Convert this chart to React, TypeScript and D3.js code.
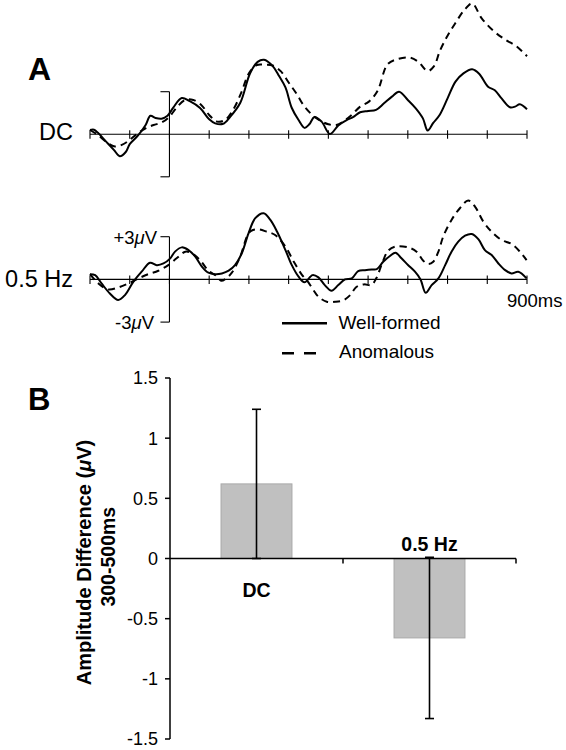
import React from "react";
import * as d3 from "d3";

// ---------- Panel A data (time in ms, amplitude in µV) ----------
const dcWellFormed: [number, number][] = [
  [-200, 0.3], [-190, 0.32], [-180, 0.1], [-160, -0.5], [-140, -1.1], [-125, -1.55], [-110, -1.25],
  [-100, -0.7], [-80, -0.12], [-60, 0.65], [-48, 1.3], [-35, 1.15], [-20, 1.1], [-5, 1.3], [10, 1.9],
  [31, 2.55], [50, 2.35], [77, 1.85], [100, 1.05], [115, 0.77], [135, 0.74], [152, 1.2], [178, 2.2],
  [203, 4.3], [222, 5.1], [238, 5.25], [260, 4.8], [276, 4.1], [292, 3.3], [308, 1.85], [325, 1.0],
  [340, 0.45], [352, 0.7], [365, 1.22], [383, 0.89], [404, 0.02], [425, 0.62], [446, 1.0], [462, 1.2],
  [480, 1.55], [500, 1.64], [520, 1.72], [540, 2.18], [560, 2.65], [578, 3.0], [600, 2.42], [620, 1.83],
  [638, 1.12], [650, 0.26], [664, 0.8], [680, 1.36], [700, 2.53], [720, 3.71], [740, 4.29], [762, 4.58],
  [780, 4.25], [802, 3.35], [819, 3.1], [836, 2.53], [857, 1.9], [870, 1.95], [882, 2.11], [900, 1.76],
];
const dcAnomalous: [number, number][] = [
  [-200, 0.3], [-180, -0.05], [-160, -0.52], [-140, -0.85], [-120, -0.75], [-100, -0.4], [-80, 0.07],
  [-60, 0.42], [-40, 0.65], [-20, 0.82], [0, 1.24], [20, 1.95], [40, 2.42], [60, 2.42], [80, 2.07],
  [100, 1.36], [120, 0.89], [140, 1.01], [160, 1.71], [180, 2.88], [200, 4.29], [220, 4.88], [240, 4.9],
  [260, 4.85], [280, 4.45], [300, 3.65], [320, 2.85], [340, 1.95], [360, 1.35], [380, 0.95], [400, 0.7],
  [420, 0.65], [440, 0.95], [460, 1.4], [480, 1.95], [502, 2.3], [524, 3.07], [549, 4.93], [574, 5.3],
  [605, 5.4], [626, 5.12], [650, 4.46], [666, 4.8], [681, 5.9], [700, 6.95], [720, 7.85], [742, 8.75],
  [762, 9.22], [786, 8.17], [815, 7.3], [844, 6.69], [874, 6.19], [900, 5.5],
];
const hzWellFormed: [number, number][] = [
  [-200, 0.37], [-187, 0.3], [-171, -0.28], [-150, -0.99], [-129, -1.45], [-112, -1.1], [-91, -0.17],
  [-70, 0.54], [-49, 1.17], [-32, 1.0], [-15, 1.12], [2, 1.48], [14, 1.95], [31, 2.25], [48, 2.06],
  [65, 1.6], [82, 0.89], [98, 0.47], [115, 0.37], [132, 0.42], [149, 0.61], [165, 1.0], [182, 1.83],
  [199, 3.24], [216, 4.3], [237, 4.65], [254, 4.18], [271, 3.35], [292, 2.06], [308, 1.0], [325, 0.19],
  [340, -0.2], [360, 0.3], [375, 0.14], [391, -0.4], [408, -0.8], [425, -0.4], [442, 0], [459, 0.07],
  [475, 0.58], [492, 0.65], [509, 0.7], [522, 0.72], [538, 1.24], [555, 1.64], [569, 1.88], [584, 1.48],
  [601, 1.0], [618, 0.54], [632, 0.0], [645, -0.94], [660, -0.4], [677, 0.07], [694, 1.0], [710, 1.95],
  [727, 2.65], [744, 3.07], [761, 3.19], [778, 2.81], [794, 2.06], [811, 1.71], [828, 1.12], [845, 0.65],
  [861, 0.42], [878, 0.54], [899, 0.07],
];
const hzAnomalous: [number, number][] = [
  [-200, 0.37], [-179, -0.28], [-154, -0.71], [-129, -0.57], [-103, -0.28], [-78, 0.07], [-53, 0.37],
  [-28, 0.61], [-3, 1.0], [18, 1.48], [40, 1.95], [56, 1.83], [77, 1.36], [98, 0.61], [119, 0.23],
  [130, -0.1], [142, 0.05], [157, 0.47], [178, 1.6], [199, 3.24], [210, 3.47], [224, 3.52], [245, 3.35],
  [266, 3.12], [292, 2.3], [313, 1.24], [334, 0.3], [347, -0.1], [360, -0.65], [375, -1.22], [396, -1.57],
  [417, -1.57], [438, -1.46], [455, -1.1], [471, -0.52], [490, -0.35], [508, -0.4], [521, 0.1],
  [535, 1.1], [550, 2.0], [568, 2.3], [601, 2.25], [622, 1.95], [639, 1.31], [651, 1.08], [664, 1.24],
  [677, 1.95], [689, 3.0], [710, 4.18], [731, 5.0], [752, 5.54], [769, 5.12], [790, 4.06], [811, 3.35],
  [836, 2.77], [861, 2.49], [882, 1.95], [899, 1.36],
];
const timeTicks = [-200, -100, 0, 100, 200, 300, 400, 500, 600, 700, 800, 900];
const legendLabels = ["Well-formed", "Anomalous"];

// ---------- Panel B data ----------
const barCategories = ["DC", "0.5 Hz"];
const barValues = [0.62, -0.66];
const barErrors = [0.62, 0.67];
const barTicks = [-1.5, -1, -0.5, 0, 0.5, 1, 1.5];

const FONT = "'Liberation Sans', Arial, Helvetica, sans-serif";

export default function App() {
  const x = d3.scaleLinear().domain([-200, 900]).range([90, 527]);
  const yDC = d3.scaleLinear().domain([-3, 3]).range([176.8, 91.7]);
  const yHz = d3.scaleLinear().domain([-3, 3]).range([322.1, 236.7]);

  const lineFor = (ys: d3.ScaleLinear<number, number>) =>
    d3
      .line<[number, number]>()
      .x((d) => x(d[0]))
      .y((d) => ys(d[1]))
      .curve(d3.curveCatmullRom.alpha(0.5));

  const lDC = lineFor(yDC);
  const lHz = lineFor(yHz);

  const yB = d3.scaleLinear().domain([-1.5, 1.5]).range([739, 378]);
  const xB = d3
    .scaleBand<string>()
    .domain(barCategories)
    .range([170, 516])
    .paddingInner(0.59)
    .paddingOuter(0.295);
  const step = xB.step();

  const axisPanel = (ys: d3.ScaleLinear<number, number>, labels: boolean) => {
    const y0 = ys(0);
    const top = ys(3);
    const bot = ys(-3);
    const x0 = x(0);
    return (
      <g>
        <line x1={x(-200)} x2={x(900)} y1={y0} y2={y0} stroke="#000" strokeWidth={1.1} />
        {timeTicks.map((t) => (
          <line key={t} x1={x(t)} x2={x(t)} y1={y0 - 4} y2={y0 + 4.5} stroke="#000" strokeWidth={1.1} />
        ))}
        <line x1={x0} x2={x0} y1={top} y2={bot} stroke="#000" strokeWidth={1.1} />
        <line x1={x0 - 9} x2={x0} y1={top} y2={top} stroke="#000" strokeWidth={1.1} />
        <line x1={x0 - 9} x2={x0} y1={bot} y2={bot} stroke="#000" strokeWidth={1.1} />
        {labels && (
          <>
            <text x={157} y={top + 6.8} textAnchor="end" fontSize={18.5} fontFamily={FONT}>
              +3<tspan fontStyle="italic">μ</tspan>V
            </text>
            <text x={154} y={bot + 6.5} textAnchor="end" fontSize={18.5} fontFamily={FONT}>
              -3<tspan fontStyle="italic">μ</tspan>V
            </text>
          </>
        )}
      </g>
    );
  };

  return (
    <svg
      width={566}
      height={750}
      style={{ position: "absolute", left: 0, top: 0, background: "#fff" }}
      fontFamily={FONT}
    >
      <rect x={0} y={0} width={566} height={750} fill="#fff" />
      {/* Panel labels */}
      <text x={28} y={80} fontSize={32} fontWeight="bold">A</text>
      <text x={28} y={410} fontSize={31} fontWeight="bold">B</text>

      {/* DC waveforms */}
      <text x={73} y={139.5} textAnchor="end" fontSize={23.5}>DC</text>
      {axisPanel(yDC, false)}
      <path d={lDC(dcWellFormed) || ""} fill="none" stroke="#000" strokeWidth={2} />
      <path d={lDC(dcAnomalous) || ""} fill="none" stroke="#000" strokeWidth={2} strokeDasharray="7,5" />

      {/* 0.5 Hz waveforms */}
      <text x={73} y={286.7} textAnchor="end" fontSize={23.5}>0.5 Hz</text>
      {axisPanel(yHz, true)}
      <path d={lHz(hzWellFormed) || ""} fill="none" stroke="#000" strokeWidth={2} />
      <path d={lHz(hzAnomalous) || ""} fill="none" stroke="#000" strokeWidth={2} strokeDasharray="7,5" />
      <text x={507} y={306.7} fontSize={18.5}>900ms</text>

      {/* Legend */}
      <line x1={282} x2={327} y1={323.3} y2={323.3} stroke="#000" strokeWidth={2.6} />
      <text x={338.5} y={328.5} fontSize={19}>{legendLabels[0]}</text>
      <line x1={282} x2={318} y1={353.3} y2={353.3} stroke="#000" strokeWidth={2.6} strokeDasharray="12,10" />
      <text x={339} y={358.3} fontSize={19}>{legendLabels[1]}</text>

      {/* Panel B bars */}
      {barCategories.map((c, i) => {
        const v = barValues[i];
        const bx = xB(c) as number;
        const bw = xB.bandwidth();
        const cx = bx + bw / 2;
        const yTop = yB(Math.max(0, v));
        const yBot = yB(Math.min(0, v));
        const eHi = yB(v + barErrors[i]);
        const eLo = yB(v - barErrors[i]);
        return (
          <g key={c}>
            <rect x={bx} y={yTop} width={bw} height={yBot - yTop} fill="#c0c0c0" stroke="#a9a9a9" strokeWidth={1} />
            <line x1={cx} x2={cx} y1={eHi} y2={eLo} stroke="#000" strokeWidth={1.6} />
            <line x1={cx - 4.5} x2={cx + 4.5} y1={eHi} y2={eHi} stroke="#000" strokeWidth={1.6} />
            <line x1={cx - 4.5} x2={cx + 4.5} y1={eLo} y2={eLo} stroke="#000" strokeWidth={1.6} />
            <text
              x={cx}
              y={v >= 0 ? yB(0) + 38.7 : yB(0) - 8}
              textAnchor="middle"
              fontSize={19.5}
              fontWeight="bold"
            >
              {c}
            </text>
          </g>
        );
      })}

      {/* Panel B axes */}
      <line x1={170} x2={516} y1={yB(0)} y2={yB(0)} stroke="#000" strokeWidth={1.5} />
      {barCategories.map((c, i) => (
        <line key={c} x1={170 + (i + 1) * step} x2={170 + (i + 1) * step} y1={yB(0)} y2={yB(0) + 5} stroke="#000" strokeWidth={1.5} />
      ))}
      <line x1={170} x2={170} y1={yB(1.5)} y2={yB(-1.5)} stroke="#000" strokeWidth={1.5} />
      {barTicks.map((t) => (
        <g key={t}>
          <line x1={165} x2={170} y1={yB(t)} y2={yB(t)} stroke="#000" strokeWidth={1.5} />
          <text x={158} y={yB(t) + 6.4} textAnchor="end" fontSize={18}>
            {String(t)}
          </text>
        </g>
      ))}

      {/* Y axis title */}
      <text transform="translate(91,562.5) rotate(-90)" textAnchor="middle" fontSize={20} fontWeight="bold">
        Amplitude Difference (<tspan fontStyle="italic">μ</tspan>V)
      </text>
      <text transform="translate(114.5,556.7) rotate(-90)" textAnchor="middle" fontSize={19.5} fontWeight="bold">
        300-500ms
      </text>
    </svg>
  );
}
